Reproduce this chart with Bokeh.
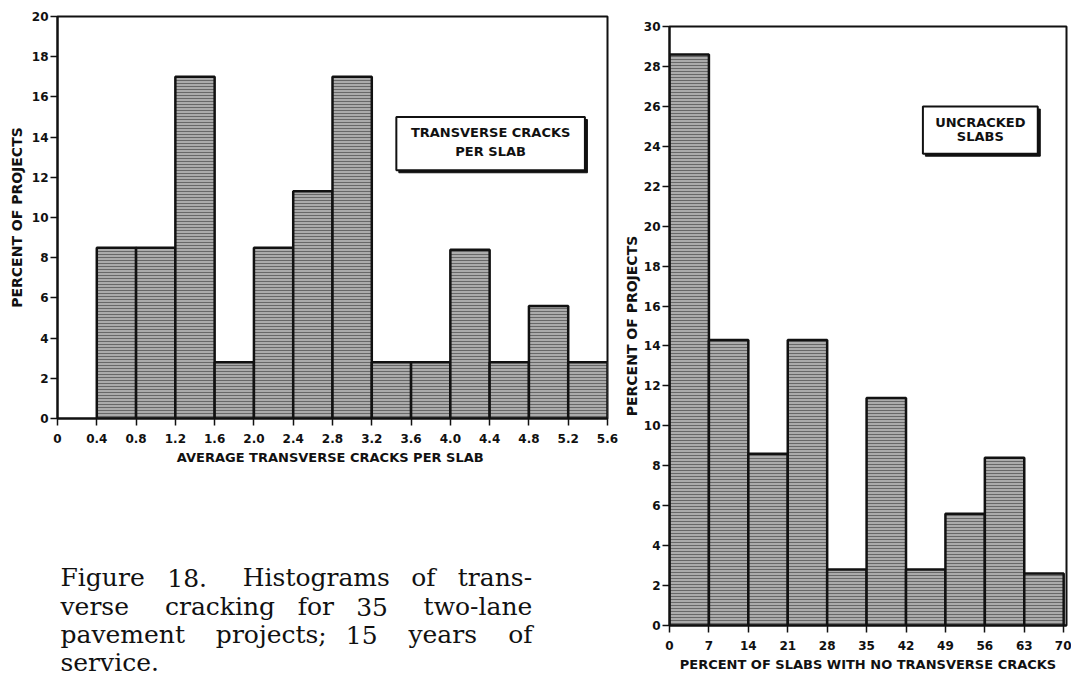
from bokeh.plotting import figure
from bokeh.layouts import row, column
from bokeh.models import Range1d, FixedTicker, BoxAnnotation, ColumnDataSource
from bokeh.core.properties import value
from bokeh.embed import file_html
from bokeh.resources import INLINE

# --- Histogram 1: average transverse cracks per slab -------------------------
crack_edges = [0.4, 0.8, 1.2, 1.6, 2.0, 2.4, 2.8, 3.2, 3.6, 4.0, 4.4, 4.8, 5.2, 5.6]
crack_pct = [8.5, 8.5, 17.0, 2.8, 8.5, 11.3, 17.0, 2.8, 2.8, 8.4, 2.8, 5.6, 2.8]
crack_ticks = [0, 0.4, 0.8, 1.2, 1.6, 2.0, 2.4, 2.8, 3.2, 3.6, 4.0, 4.4, 4.8, 5.2, 5.6]
crack_tick_labels = ["0", "0.4", "0.8", "1.2", "1.6", "2.0", "2.4", "2.8", "3.2",
                     "3.6", "4.0", "4.4", "4.8", "5.2", "5.6"]
crack_y_ticks = [0, 2, 4, 6, 8, 10, 12, 14, 16, 18, 20]

# --- Histogram 2: percent of slabs with no transverse cracks -----------------
uncracked_edges = [0, 7, 14, 21, 28, 35, 42, 49, 56, 63, 70]
uncracked_pct = [28.6, 14.3, 8.6, 14.3, 2.8, 11.4, 2.8, 5.6, 8.4, 2.6]
uncracked_ticks = [0, 7, 14, 21, 28, 35, 42, 49, 56, 63, 70]
uncracked_y_ticks = [0, 2, 4, 6, 8, 10, 12, 14, 16, 18, 20, 22, 24, 26, 28, 30]

caption_lines = [
    "Figure 18.  Histograms of trans-",
    "verse  cracking for 35  two-lane",
    "pavement  projects; 15  years  of",
    "service.",
]

SANS = "DejaVu Sans"
SERIF = "DejaVu Serif"
INK = "#111111"


def histogram(edges, pct, x_end, y_end, width, height, borders,
              x_ticks, y_ticks, x_title, y_title, tick_overrides=None,
              y_title_standoff=4):
    left_b, right_b, top_b, bottom_b = borders
    p = figure(width=width, height=height, output_backend="svg",
               toolbar_location=None, frame_align=False,
               x_range=Range1d(0, x_end), y_range=Range1d(0, y_end),
               min_border_left=left_b, min_border_right=right_b,
               min_border_top=top_b, min_border_bottom=bottom_b)
    p.background_fill_color = "white"
    p.border_fill_color = "white"
    p.outline_line_color = INK
    p.outline_line_width = 2
    p.grid.visible = False

    src = ColumnDataSource(dict(left=edges[:-1], right=edges[1:],
                                top=pct, bottom=[0] * len(pct)))
    p.quad(left="left", right="right", top="top", bottom="bottom", source=src,
           fill_color="#ababab", line_color=INK, line_width=2.5,
           hatch_pattern="horizontal_line", hatch_color="#686868",
           hatch_scale=3, hatch_weight=1)

    for ax in (p.xaxis[0], p.yaxis[0]):
        ax.axis_line_color = INK
        ax.axis_line_width = 2
        ax.major_tick_line_color = INK
        ax.major_tick_line_width = 1.5
        ax.major_tick_in = 0
        ax.minor_tick_line_color = None
        ax.major_label_text_font = SANS
        ax.major_label_text_font_style = "bold"
        ax.major_label_text_font_size = "12px"
        ax.major_label_text_color = INK
        ax.axis_label_text_font = SANS
        ax.axis_label_text_font_style = "bold"
        ax.axis_label_text_font_size = "13px"
        ax.axis_label_text_color = INK

    xa, ya = p.xaxis[0], p.yaxis[0]
    xa.ticker = FixedTicker(ticks=x_ticks)
    ya.ticker = FixedTicker(ticks=y_ticks)
    if tick_overrides:
        xa.major_label_overrides = tick_overrides
    xa.major_tick_out = 7
    xa.major_label_standoff = 8
    xa.axis_label = x_title
    xa.axis_label_standoff = 4
    ya.major_tick_out = 7
    ya.major_label_standoff = 2
    ya.axis_label = y_title
    ya.axis_label_standoff = y_title_standoff
    ya.axis_label_text_font_size = "14px"
    return p


left = histogram(crack_edges, crack_pct, 5.6, 20, 620, 470, (57, 13, 16, 52),
                 crack_ticks, crack_y_ticks,
                 "AVERAGE TRANSVERSE CRACKS  PER SLAB", "PERCENT OF PROJECTS",
                 tick_overrides={t: s for t, s in zip(crack_ticks, crack_tick_labels)})

right = histogram(uncracked_edges, uncracked_pct, 70.5, 30, 451, 677, (48, 5, 26, 52),
                  uncracked_ticks, uncracked_y_ticks,
                  "PERCENT OF SLABS WITH NO TRANSVERSE CRACKS", "PERCENT OF PROJECTS",
                  y_title_standoff=1)


def key_box(p, x0, x1, y0, y1, lines, ys, px_x, px_y):
    # heavy drop shadow on the lower right, then the framed white box
    sh = 2.5
    p.add_layout(BoxAnnotation(left=x0 + sh * px_x, right=x1 + sh * px_x,
                               bottom=y0 - sh * px_y, top=y1 - sh * px_y,
                               fill_color=INK, fill_alpha=1, line_color=INK,
                               line_alpha=1, line_width=1, level="underlay"))
    p.add_layout(BoxAnnotation(left=x0, right=x1, bottom=y0, top=y1,
                               fill_color="white", fill_alpha=1,
                               line_color=INK, line_alpha=1, line_width=2,
                               level="underlay"))
    xc = (x0 + x1) / 2
    p.text(x=[xc] * len(lines), y=ys, text=lines, text_align="center",
           text_baseline="middle", text_font=value(SANS), text_font_style="bold",
           text_font_size="13px", text_color=INK)


key_box(left, 3.45, 5.37, 12.35, 15.0, ["TRANSVERSE CRACKS", "PER SLAB"], [14.22, 13.28],
        5.6 / 550, 20 / 402)
key_box(right, 45.0, 65.4, 23.63, 25.99, ["UNCRACKED", "SLABS"], [25.2, 24.48],
        70.5 / 398, 30 / 599)

# --- caption: justified serif paragraph under the first histogram -----------
# DejaVu Serif advance widths in em, used to set the words flush on both sides
ADV = {"a": .596, "b": .64, "c": .563, "d": .64, "e": .592, "f": .37, "g": .64,
       "h": .643, "i": .32, "j": .31, "k": .613, "l": .32, "m": .94, "n": .643,
       "o": .6, "p": .636, "r": .478, "s": .51, "t": .4, "u": .643, "v": .582,
       "w": .845, "y": .582, "F": .703, "H": .85, ".": .318, ";": .337, "-": .36,
       "1": .636, "3": .636, "5": .636, "8": .636}
CAP_SIZE = 25
CAP_LEFT, CAP_RIGHT = 60, 532
CAP_Y = [107, 136, 164, 192]
WIDE_GAP = 1.6  # relative width of a double space after a sentence or number

word_x, word_y, word_text = [], [], []
for i, line in enumerate(caption_lines):
    parts = line.split(" ")
    words, gaps, run = [], [], 0
    for part in parts:
        if part == "":
            run += 1
            continue
        if words:
            gaps.append(WIDE_GAP if run else 1.0)
        words.append(part)
        run = 0
    widths = [sum(ADV.get(ch, .6) for ch in w) * CAP_SIZE for w in words]
    if i == len(caption_lines) - 1:
        unit = 0.318 * CAP_SIZE
    else:
        unit = (CAP_RIGHT - CAP_LEFT - sum(widths)) / sum(gaps)
    x = CAP_LEFT
    for k, w in enumerate(words):
        word_x.append(x)
        word_y.append(CAP_Y[i])
        word_text.append(w)
        x += widths[k] + (gaps[k] * unit if k < len(gaps) else 0)

cap = figure(width=620, height=207, output_backend="svg", toolbar_location=None,
             frame_align=False, x_range=Range1d(0, 620), y_range=Range1d(207, 0),
             x_axis_location=None, y_axis_location=None,
             min_border=0, min_border_left=0, min_border_right=0,
             min_border_top=0, min_border_bottom=0)
cap.outline_line_color = None
cap.grid.visible = False
cap.text(x=word_x, y=word_y, text=word_text,
         text_align="left", text_baseline="middle", text_font=value(SERIF),
         text_font_size=f"{CAP_SIZE}px", text_color=INK)

page = row(column(left, cap), right)
open("out.html", "w").write(file_html(page, INLINE))
